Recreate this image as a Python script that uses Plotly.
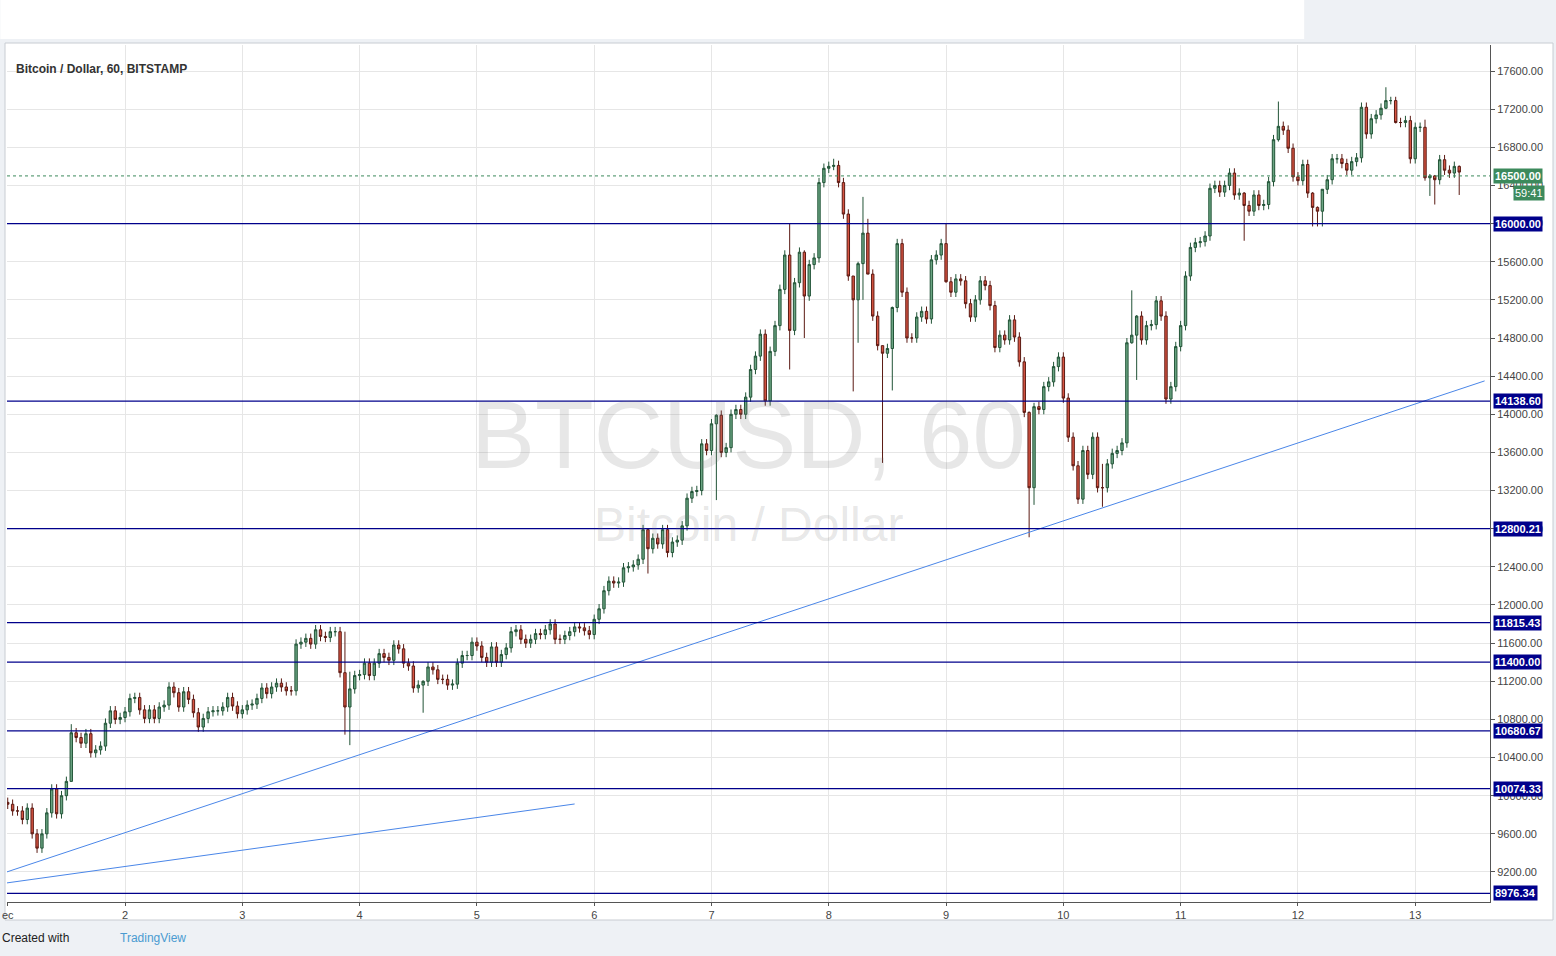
import pandas as pd
import plotly.graph_objects as go

# hourly closes, 1 Dec 2017 00:00 onwards
closes_d1_d2 = [9910, 9840, 9840, 9750, 9870, 9600, 9450, 9600, 9820, 10070, 9810, 10000,
                10150, 10660, 10610, 10550, 10650, 10450, 10480, 10520, 10760, 10890, 10800, 10820,
                10880, 11020, 11030, 10900, 10810, 10900, 10810, 10930, 10950, 11140, 11080, 10930,
                11090, 11010, 10870, 10720, 10810, 10880, 10890, 10890, 10930, 11030, 10940, 10860]
closes_d3_d5 = [10900, 10950, 10960, 11020, 11130, 11070, 11140, 11180, 11140, 11100, 11100, 11590,
                11610, 11650, 11590, 11740, 11670, 11660, 11720, 11720, 11290, 10930, 11120, 11260,
                11270, 11390, 11260, 11390, 11490, 11450, 11420, 11580, 11540, 11390, 11360, 11130,
                11160, 11200, 11350, 11320, 11220, 11220, 11160, 11170, 11390, 11470, 11470, 11610, 11570]
closes_d5_d7 = [11450, 11400, 11560, 11400, 11480, 11550, 11720, 11740, 11640, 11600, 11640, 11700,
                11690, 11740, 11800, 11640, 11640, 11680, 11720, 11770, 11760, 11730, 11690, 11850,
                11960, 12150, 12250, 12230, 12240, 12390, 12400, 12420, 12480, 12790, 12590, 12700,
                12640, 12790, 12550, 12660, 12680, 12830, 13120, 13190, 13200, 13690, 13620, 13900, 13990]
closes_d7_d9 = [13600, 13650, 14000, 14050, 14000, 14180, 14470, 14610, 14840, 14140, 14660, 14930,
                15310, 15670, 14880, 15380, 15700, 15240, 15570, 15640, 16430, 16580, 16600, 16610,
                16430, 16100, 15450, 15200, 15580, 15900, 15470, 15030, 14720, 14640, 14690, 15120,
                15790, 15280, 14800, 14800, 15020, 15080, 15000, 15620, 15670, 15790, 15390, 15280, 15420]
closes_d9_d11 = [15400, 15160, 15020, 15200, 15400, 15350, 15140, 14700, 14830, 14780, 14990, 14810,
                 14550, 14020, 13230, 14080, 14050, 14290, 14340, 14500, 14600, 14170, 13760, 13460,
                 13110, 13620, 13370, 13760, 13230, 13230, 13480, 13590, 13620, 13700, 14750, 14830,
                 15030, 14780, 14930, 14940, 15190, 15030, 14160, 14290, 14710, 14930, 15450, 15750, 15800]
closes_d11_d13 = [15810, 15870, 16370, 16400, 16330, 16400, 16530, 16300, 16320, 16190, 16130, 16300,
                  16190, 16200, 16440, 16880, 17020, 16980, 16790, 16490, 16450, 16620, 16320, 16170,
                  16130, 16360, 16460, 16680, 16680, 16630, 16560, 16650, 16690, 17220, 16940, 17100,
                  17140, 17210, 17290, 17290, 17060, 17060, 17080, 16680, 17010, 17010, 16480, 16500,
                  16460, 16670, 16560, 16530, 16600, 16540]
first_open = 9930

# notable wicks: candle index -> (high, low)
wick_overrides = {13: (10750, 10150), 69: (11720, 10640), 70: (11300, 10530), 85: (11210, 10870),
                  131: (12800, 12330), 145: (14000, 13100), 160: (16000, 14470), 163: (15720, 14800),
                  169: (16680, 16560), 173: (15450, 14240), 174: (15600, 14750), 175: (16280, 15200),
                  176: (16050, 15470), 179: (14720, 13490), 181: (15130, 14250), 192: (16000, 15380),
                  209: (14030, 12710), 210: (14120, 13050), 224: (13480, 13030), 230: (15300, 14740),
                  231: (15040, 14360), 253: (16330, 15820), 260: (17280, 16860), 267: (16330, 15970),
                  268: (16180, 15970), 269: (16360, 15970), 282: (17430, 17200), 283: (17330, 17250),
                  284: (17330, 17050), 290: (17090, 16450), 291: (16520, 16290), 292: (16510, 16200),
                  297: (16610, 16300)}
default_wick = 50

levels = [16000.00, 14138.60, 12800.21, 11815.43, 11400.00, 10680.67, 10074.33, 8976.34]
last_price = 16500.00

# trend lines: (candle index, price) pairs
trend_main = [(-0.2, 9200), (302.2, 14350)]
trend_low = [(-0.2, 9085), (116.0, 9913)]

closes = closes_d1_d2 + closes_d3_d5 + closes_d5_d7 + closes_d7_d9 + closes_d9_d11 + closes_d11_d13
opens = [first_open] + closes[:-1]
highs, lows = [], []
for i, (o, c) in enumerate(zip(opens, closes)):
    hi, lo = wick_overrides.get(i, (max(o, c) + default_wick, min(o, c) - default_wick))
    highs.append(max(hi, o, c))
    lows.append(min(lo, o, c))

t0 = pd.Timestamp("2017-12-01 00:00")
times = pd.date_range(t0, periods=len(closes), freq="h")
hrs = lambda h: t0 + pd.Timedelta(hours=h)

PH = 857  # plot height px, for paper offsets
PW = 1483

fig = go.Figure()
fig.add_trace(go.Candlestick(
    x=times, open=opens, high=highs, low=lows, close=closes,
    increasing=dict(fillcolor="#6ba583", line=dict(color="#225437", width=1)),
    decreasing=dict(fillcolor="#d75442", line=dict(color="#5b1a13", width=1)),
    whiskerwidth=0, showlegend=False, hoverinfo="skip"))

for tl in (trend_main, trend_low):
    fig.add_trace(go.Scatter(x=[hrs(p[0]) for p in tl], y=[p[1] for p in tl], mode="lines",
                             line=dict(color="#4a86e8", width=1), showlegend=False, hoverinfo="skip"))

for lv in levels:
    fig.add_hline(y=lv, line=dict(color="#00008b", width=1.3))
    fig.add_annotation(x=1, xref="paper", y=lv, yref="y", xanchor="left", text=f"<b>{lv:.2f}</b>",
                       showarrow=False, bgcolor="#00008b", font=dict(color="white", size=11, family="Arial"),
                       borderpad=1, xshift=3)
fig.add_hline(y=last_price, line=dict(color="#3c8a5c", width=1, dash="dot"))
fig.add_annotation(x=1, xref="paper", y=last_price, yref="y", xanchor="left", text="<b>16500.00</b>",
                   showarrow=False, bgcolor="#3c8a5c", font=dict(color="white", size=11, family="Arial"),
                   borderpad=1, xshift=3)
fig.add_annotation(x=1, xref="paper", y=last_price, yref="y", xanchor="left", text="59:41",
                   showarrow=False, bgcolor="#3c8a5c", font=dict(color="white", size=11, family="Arial"),
                   borderpad=1, xshift=23, yshift=-17)

# watermark
fig.add_annotation(x=0.5, y=0.545, xref="paper", yref="paper", text="BTCUSD, 60", showarrow=False,
                   font=dict(size=96, color="rgba(120,120,120,0.18)", family="Arial"))
fig.add_annotation(x=0.5, y=0.44, xref="paper", yref="paper", text="Bitcoin / Dollar", showarrow=False,
                   font=dict(size=48, color="rgba(120,120,120,0.18)", family="Arial"))
fig.add_annotation(x=0.005, y=1 - 15 / PH, xref="paper", yref="paper", xanchor="left", text="<b>Bitcoin / Dollar, 60, BITSTAMP</b>",
                   showarrow=False, font=dict(size=12, color="#333", family="Arial"))

# page furniture
fig.add_shape(type="rect", xref="paper", yref="paper", x0=-0.0045, x1=0.8747, y0=1.0 + 6 / PH, y1=1.0 + 45 / PH,
              fillcolor="white", line=dict(width=0), layer="below")
fig.add_shape(type="rect", xref="paper", yref="paper", x0=-2 / PW, x1=1 + 63 / PW, y0=-18 / PH, y1=1 + 2 / PH,
              fillcolor="white", line=dict(color="#c8ccd2", width=1), layer="below")
fig.add_annotation(x=-0.0045, y=-36 / PH, xref="paper", yref="paper", xanchor="left", yanchor="middle",
                   text="Created with", showarrow=False, font=dict(size=12, color="#222", family="Arial"))
fig.add_annotation(x=111 / PW, y=-36 / PH, xref="paper", yref="paper", xanchor="left", yanchor="middle",
                   text="TradingView", showarrow=False, font=dict(size=12, color="#4a9bd1", family="Arial"))

tick_days = [t0 + pd.Timedelta(days=d) for d in range(13)]
tick_text = ["ec"] + [str(d) for d in range(2, 14)]

fig.update_layout(
    width=1556, height=956, margin=dict(l=7, r=66, t=45, b=54),
    paper_bgcolor="#eef1f5", plot_bgcolor="white",
    xaxis=dict(range=[hrs(-0.15), hrs(303.3)], rangeslider=dict(visible=False), tickvals=tick_days,
               ticktext=tick_text, showgrid=True, gridcolor="#e6e6e6", tickfont=dict(size=11, color="#444"),
               showline=True, linecolor="#555", ticks="outside", ticklen=3, tickcolor="#555", zeroline=False,
               automargin=False),
    yaxis=dict(range=[8885, 17873], side="right", dtick=400, tick0=0, tickformat=".2f", showgrid=True,
               gridcolor="#e6e6e6", tickfont=dict(size=11, color="#444"), showline=True, linecolor="#555",
               ticks="outside", ticklen=4, tickcolor="#555", zeroline=False, automargin=False),
    font=dict(family="Arial"),
)

fig.write_html("out.html", config={"displayModeBar": False},
               post_script="document.body.style.margin='0';")
